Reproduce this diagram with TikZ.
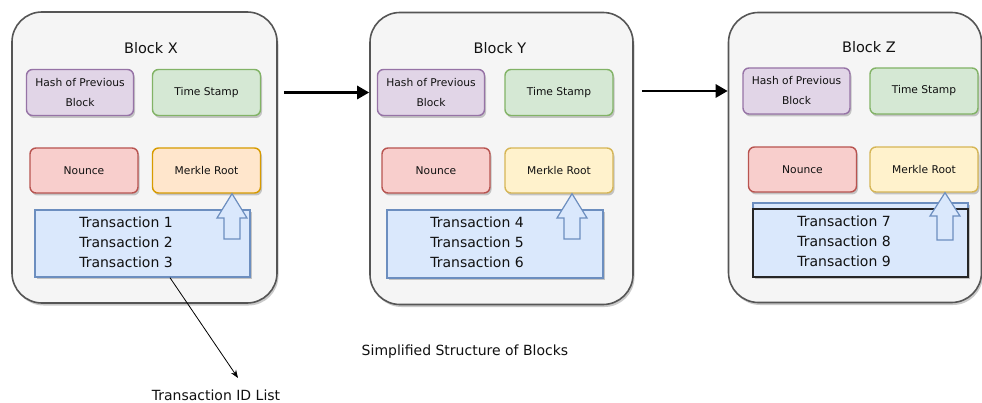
\documentclass[tikz,border=0pt]{standalone}
\usepackage{fontspec}
\setmainfont{DejaVu Sans}
\usetikzlibrary{shadows,arrows.meta}
\definecolor{outerfill}{HTML}{F5F5F5}
\definecolor{outerdraw}{HTML}{555555}
\definecolor{purfill}{HTML}{E1D5E7}
\definecolor{purdraw}{HTML}{9673A6}
\definecolor{grnfill}{HTML}{D5E8D4}
\definecolor{grndraw}{HTML}{82B366}
\definecolor{redfill}{HTML}{F8CECC}
\definecolor{reddraw}{HTML}{B85450}
\definecolor{orafill}{HTML}{FFE6CC}
\definecolor{oradraw}{HTML}{D79B00}
\definecolor{yelfill}{HTML}{FFF2CC}
\definecolor{yeldraw}{HTML}{D6B656}
\definecolor{blufill}{HTML}{DAE8FC}
\definecolor{bludraw}{HTML}{6C8EBF}
\definecolor{txt}{HTML}{111111}
\begin{document}
\begin{tikzpicture}[x=1pt,y=-1pt,
  shd/.style={drop shadow={shadow xshift=1.5pt,shadow yshift=-2.5pt,opacity=0.35,fill=black!60}},
  outerblk/.style={draw=outerdraw,fill=outerfill,line width=1.6pt,rounded corners=30pt,shd,inner sep=0pt},
  inbox/.style={rounded corners=6pt,line width=1.4pt,shd,inner sep=0pt,align=center,text=txt,
    font=\fontsize{10.7}{20}\selectfont},
  hashbox/.style={inbox,draw=purdraw,fill=purfill,minimum width=107,minimum height=46},
  timebox/.style={inbox,draw=grndraw,fill=grnfill,minimum width=108,minimum height=46},
  nouncebox/.style={inbox,draw=reddraw,fill=redfill,minimum width=108,minimum height=45},
  merkleo/.style={inbox,draw=oradraw,fill=orafill,minimum width=108,minimum height=45},
  merkley/.style={inbox,draw=yeldraw,fill=yelfill,minimum width=108,minimum height=45},
  transbox/.style={draw=bludraw,fill=blufill,line width=1.4pt,shd,inner sep=0pt},
  translines/.style={align=center,text=txt,font=\fontsize{14}{20}\selectfont,inner sep=0pt},
  title/.style={text=txt,font=\fontsize{14.5}{17}\selectfont,inner sep=0pt},
  uparrow/.style={draw=bludraw,fill=blufill,line width=1.2pt,line join=miter},
  chain/.style={line width=2.8pt,draw=black,-{Triangle[length=12pt,width=13pt]}},
  caption/.style={text=txt,font=\fontsize{14}{17}\selectfont,inner sep=0pt}
]
\useasboundingbox[fill=white] (0,0) rectangle (982,403);

% ---- Block X
\node[outerblk,minimum width=265,minimum height=291] (bx) at (144.5,157.5) {};
\node[title] (tx) at (151,48) {Block X};
\node[hashbox] (hx) at (80,92.5) {Hash of Previous\\Block};
\node[timebox] (sx) at (206.5,92.5) {Time Stamp};
\node[nouncebox] (nx) at (84,170.5) {Nounce};
\node[merkleo] (mx) at (206.5,170.5) {Merkle Root};
\node[transbox,minimum width=215,minimum height=67] (trx) at (142.5,243.5) {};
\node[translines] (lx) at (126,242) {Transaction 1\\Transaction 2\\Transaction 3};
\draw[uparrow] (mx.south -| 232,0) -- (247,218) -- (240,218) -- (240,239) -- (224,239) -- (224,218) -- (217,218) -- cycle;

% ---- Block Y
\node[outerblk,minimum width=263,minimum height=292] (by) at (501.5,158.5) {};
\node[title] (ty) at (500,48) {Block Y};
\node[hashbox] (hy) at (431,92.5) {Hash of Previous\\Block};
\node[timebox] (sy) at (559,92.5) {Time Stamp};
\node[nouncebox] (ny) at (436,170.5) {Nounce};
\node[merkley] (my) at (559,170.5) {Merkle Root};
\node[transbox,minimum width=216,minimum height=68] (try) at (495,244) {};
\node[translines] (ly) at (477,242) {Transaction 4\\Transaction 5\\Transaction 6};
\draw[uparrow] (my.south -| 572,0) -- (587,218) -- (580,218) -- (580,239) -- (564,239) -- (564,218) -- (557,218) -- cycle;

% ---- Block Z
\node[outerblk,minimum width=253,minimum height=290] (bz) at (855,157.5) {};
\node[title] (tz) at (869,47) {Block Z};
\node[hashbox] (hz) at (796.5,91) {Hash of Previous\\Block};
\node[timebox] (sz) at (924,91) {Time Stamp};
\node[nouncebox] (nz) at (802.5,169.5) {Nounce};
\node[merkley] (mz) at (924,169.5) {Merkle Root};
\node[transbox,minimum width=215,minimum height=74] (trz) at (860.5,240) {};
\node[draw=black!85,line width=1.6pt,minimum width=215,minimum height=68,inner sep=0pt] (dz) at (860.5,243) {};
\node[translines] (lz) at (844,241) {Transaction 7\\Transaction 8\\Transaction 9};
\draw[uparrow] (mz.south -| 945,0) -- (960,216) -- (953,216) -- (953,240) -- (937,240) -- (937,216) -- (930,216) -- cycle;

% ---- chain arrows
\draw[chain,shorten <=6pt] (bx.east |- hx.center) -- (by.west |- hx.center);
\draw[chain,shorten <=8pt] (by.east |- hz.center) -- (bz.west |- hz.center);

% ---- labels
\node[caption] (cap) at (465,352) {Simplified Structure of Blocks};
\node[caption] (tid) at (216,395) {Transaction ID List};
\coordinate (tidtip) at (238,378);
\draw[line width=0.8pt,-{Stealth[length=8pt,width=6pt]}] (trx.south -| 170,0) -- (tidtip);
\end{tikzpicture}
\end{document}
